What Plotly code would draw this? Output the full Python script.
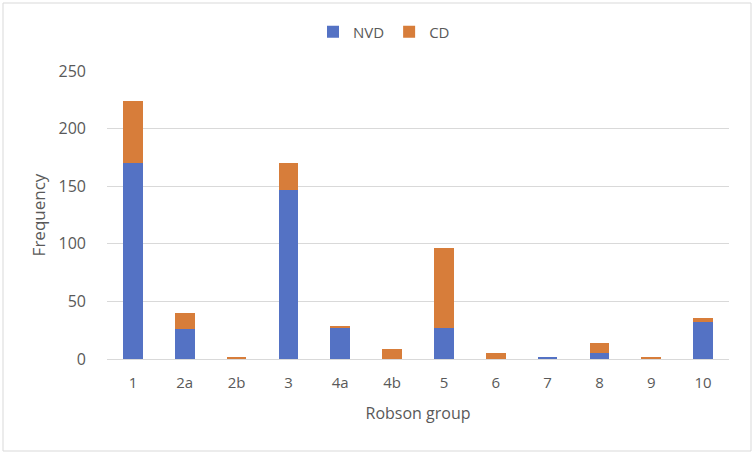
import plotly.graph_objects as go

groups = ["1", "2a", "2b", "3", "4a", "4b", "5", "6", "7", "8", "9", "10"]
nvd = [170, 26, 0, 147, 27, 0, 27, 0, 2, 5, 0, 32]
cd = [54, 14, 2, 23, 2, 9, 69, 5, 0, 9, 2, 4]
y_ticks = [0, 50, 100, 150, 200, 250]

W, H = 755, 455
ml, mr, mt, mb = 107, 26, 71, 96
pw, ph = W - ml - mr, H - mt - mb

fig = go.Figure()
fig.add_trace(go.Bar(name="NVD", x=groups, y=nvd, marker=dict(color="#5472C4", line=dict(width=0))))
fig.add_trace(go.Bar(name="CD", x=groups, y=cd, marker=dict(color="#D77D3A", line=dict(width=0))))

font_family = "Open Sans, Noto Sans, sans-serif"
fig.update_layout(
    barmode="stack",
    bargap=0.62,
    width=W, height=H,
    margin=dict(l=ml, r=mr, t=mt, b=mb, autoexpand=False),
    paper_bgcolor="white",
    plot_bgcolor="white",
    font=dict(family=font_family, size=14, color="#595959"),
    legend=dict(orientation="h", x=(384 - ml) / pw, xanchor="center", y=1 + (mt - 32) / ph, yanchor="middle",
                font=dict(size=15, color="#595959"), traceorder="normal", itemwidth=30),
    xaxis=dict(title=dict(text="Robson group", font=dict(size=16, color="#595959"), standoff=16),
               showgrid=False, showline=True, linecolor="#d9d9d9", linewidth=1, ticks="",
               ticklabelstandoff=10,
               automargin=False, tickfont=dict(size=15, color="#595959")),
    yaxis=dict(title=dict(text="Frequency", font=dict(size=17, color="#595959"), standoff=8),
               range=[0, 250], tickvals=y_ticks, showgrid=True, gridcolor="#d9d9d9", gridwidth=1,
               ticklabelstandoff=20,
               automargin=False, zeroline=False, showline=False, ticks="", tickfont=dict(size=16, color="#595959")),
    shapes=[dict(type="rect", xref="paper", yref="paper",
                 x0=(3 - ml) / pw, x1=(751 - ml) / pw,
                 y0=-(H - 4 - mt - ph) / ph, y1=1 + (mt - 3) / ph,
                 line=dict(color="#d9d9d9", width=1), fillcolor="rgba(0,0,0,0)", layer="below")],
)

fig.write_html("out.html", config={"displayModeBar": False},
               post_script="document.body.style.margin='0px';document.body.style.overflow='hidden';")
